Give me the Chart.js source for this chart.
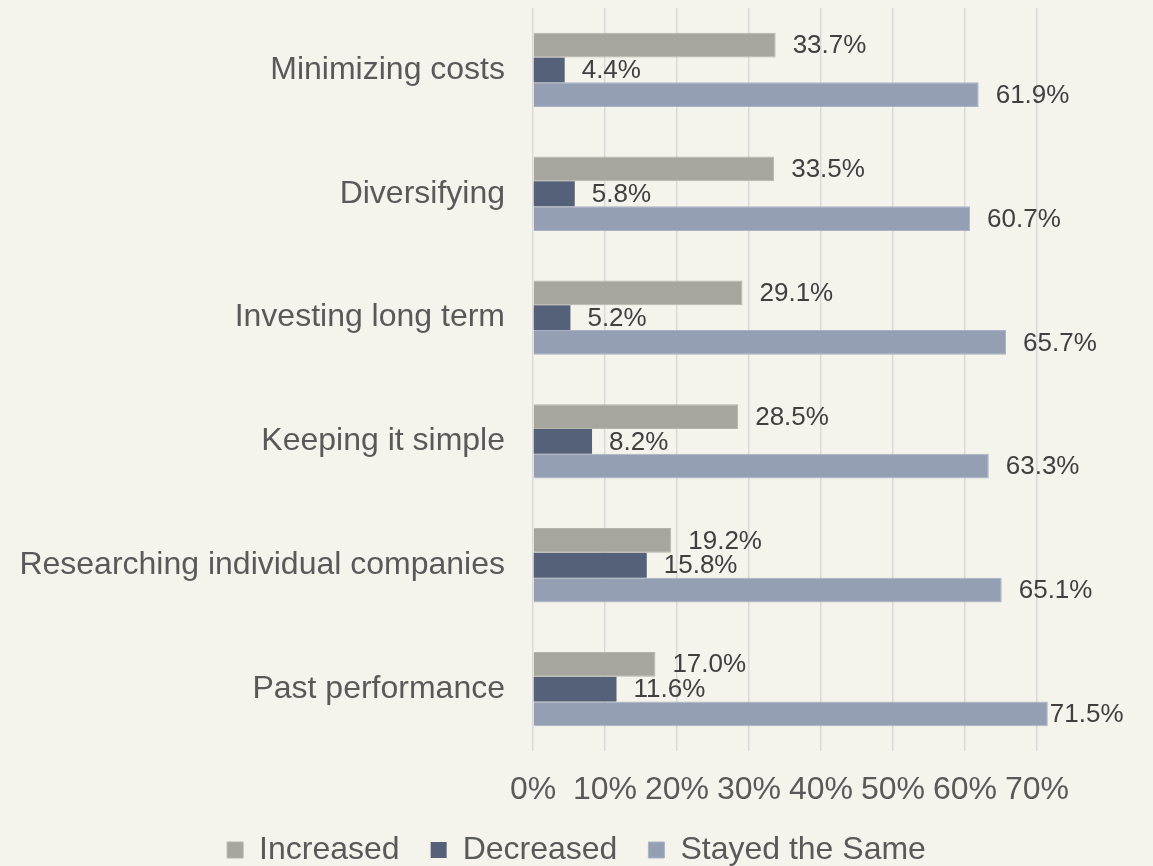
<!DOCTYPE html>
<html>
<head>
<meta charset="utf-8">
<script src="https://cdn.jsdelivr.net/npm/chart.js@4.4.1/dist/chart.umd.min.js"></script>
<style>
  html, body { margin: 0; padding: 0; background: #F4F4EC; }
  canvas { display: block; }
</style>
</head>
<body>
<canvas id="chart" width="1153" height="866"></canvas>
<script>
const categories = ['Minimizing costs', 'Diversifying', 'Investing long term', 'Keeping it simple', 'Researching individual companies', 'Past performance'];
const increased = [33.7, 33.5, 29.1, 28.5, 19.2, 17.0];
const decreased = [4.4, 5.8, 5.2, 8.2, 15.8, 11.6];
const stayedSame = [61.9, 60.7, 65.7, 63.3, 65.1, 71.5];
const xTicks = [0, 10, 20, 30, 40, 50, 60, 70];

const FONT = "'Liberation Sans', Arial, sans-serif";
const X_MAX = 70;

// value labels at the end of each bar
const barLabels = {
    id: 'barLabels',
    afterDatasetsDraw(chart) {
        const ctx = chart.ctx;
        ctx.save();
        ctx.font = '26px ' + FONT;
        ctx.fillStyle = '#404040';
        ctx.textAlign = 'left';
        ctx.textBaseline = 'middle';
        chart.data.datasets.forEach((ds, i) => {
            chart.getDatasetMeta(i).data.forEach((bar, j) => {
                const v = ds.data[j];
                const off = v > X_MAX ? 2 : 17;
                ctx.fillText(v.toFixed(1) + '%', bar.x + off, bar.y + 1);
            });
        });
        ctx.restore();
    }
};

const bg = {
    id: 'bg',
    beforeDraw(chart) {
        const ctx = chart.ctx;
        ctx.save();
        ctx.fillStyle = '#F4F4EC';
        ctx.fillRect(0, 0, chart.width, chart.height);
        ctx.restore();
    }
};

new Chart(document.getElementById('chart').getContext('2d'), {
    type: 'bar',
    data: {
        labels: categories,
        datasets: [
            { label: 'Increased', data: increased, backgroundColor: '#A6A69E', borderColor: '#B4B4AC', borderWidth: 1, clip: false },
            { label: 'Decreased', data: decreased, backgroundColor: '#556079', borderColor: '#556079', borderWidth: 0, clip: false },
            { label: 'Stayed the Same', data: stayedSame, backgroundColor: '#949FB4', borderColor: '#AAB3C5', borderWidth: 1, clip: false }
        ]
    },
    options: {
        indexAxis: 'y',
        responsive: false,
        animation: false,
        layout: { padding: { top: 8, right: 20, left: 20, bottom: -10 } },
        datasets: { bar: { categoryPercentage: 0.6, barPercentage: 1.0 } },
        scales: {
            x: {
                min: 0,
                max: X_MAX,
                afterBuildTicks: (axis) => { axis.ticks = xTicks.map(v => ({ value: v })); },
                // chart.js counts tick padding twice; trim the space under the labels
                afterFit: (scale) => { scale.paddingRight = 116; scale.height = 52; },
                ticks: {
                    callback: (v) => v + '%',
                    font: { family: FONT, size: 32 },
                    color: '#595959',
                    padding: 20,
                    maxRotation: 0
                },
                grid: { color: '#D9D9D9', lineWidth: 1.5, drawTicks: false },
                border: { display: false }
            },
            y: {
                ticks: {
                    font: { family: FONT, size: 32 },
                    color: '#595959',
                    padding: 28
                },
                grid: { display: false, drawTicks: false },
                border: { display: false },
                afterFit: (scale) => { scale.width = 513; scale.paddingTop = 0; scale.paddingBottom = 0; }
            }
        },
        plugins: {
            legend: {
                position: 'bottom',
                labels: {
                    font: { family: FONT, size: 32 },
                    color: '#595959',
                    boxWidth: 16,
                    boxHeight: 16,
                    padding: 31,
                    useBorderRadius: false
                }
            },
            tooltip: { enabled: false }
        }
    },
    plugins: [bg, barLabels]
});
</script>
</body>
</html>
